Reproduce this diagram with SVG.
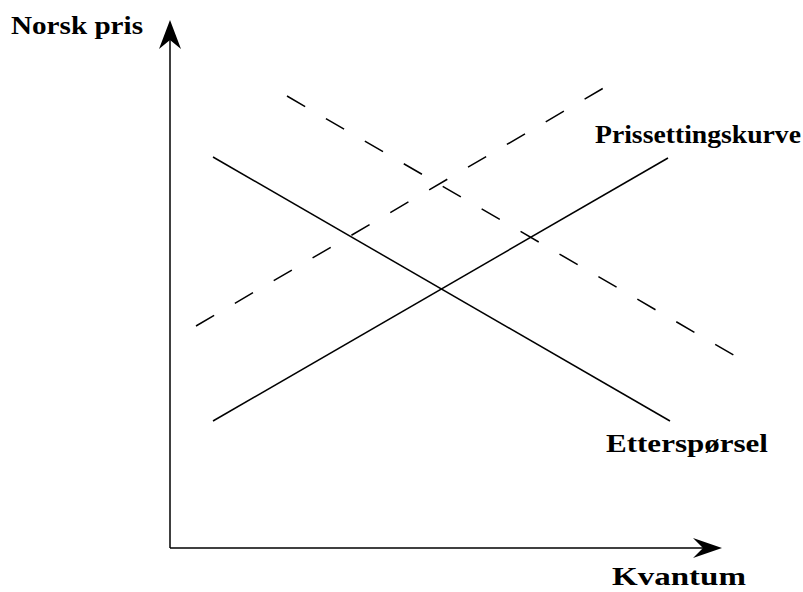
<svg xmlns="http://www.w3.org/2000/svg" width="803" height="592" viewBox="0 0 803 592">
<style>
  .lbl { font-family: "Liberation Serif", "Times New Roman", serif; font-weight: bold; font-size: 26px; fill: #000; }
  .ln { stroke: #000; stroke-width: 1.5; fill: none; }
  .dash { stroke-dasharray: 21 24; }
  .head { fill: #000; stroke: none; }
</style>
<rect width="803" height="592" fill="#fff"/>
<g id="axes">
  <line class="ln" x1="170" y1="548" x2="170" y2="38"/>
  <line class="ln" x1="170" y1="548" x2="705" y2="548"/>
  <polygon class="head" points="170,20 181,49 170,40 159,49"/>
  <polygon class="head" points="722,548 693,558 703,548 693,538"/>
</g>
<g id="connectors">
  <line id="demand" class="ln" x1="213" y1="157" x2="670" y2="421"/>
  <line id="pricesetting" class="ln" x1="213" y1="421" x2="668" y2="158"/>
  <line id="demand-shifted" class="ln dash" x1="287" y1="96" x2="737" y2="357"/>
  <line id="pricesetting-shifted" class="ln dash" x1="196" y1="326" x2="607" y2="86"/>
</g>
<g id="label-y"><text class="lbl" x="11" y="34" textLength="132" lengthAdjust="spacingAndGlyphs">Norsk pris</text></g>
<g id="label-prissetting"><text class="lbl" x="595" y="143" textLength="206" lengthAdjust="spacingAndGlyphs">Prissettingskurve</text></g>
<g id="label-ettersporsel"><text class="lbl" x="606" y="452" textLength="162" lengthAdjust="spacingAndGlyphs">Etterspørsel</text></g>
<g id="label-x"><text class="lbl" x="612" y="585" textLength="134" lengthAdjust="spacingAndGlyphs">Kvantum</text></g>
</svg>
